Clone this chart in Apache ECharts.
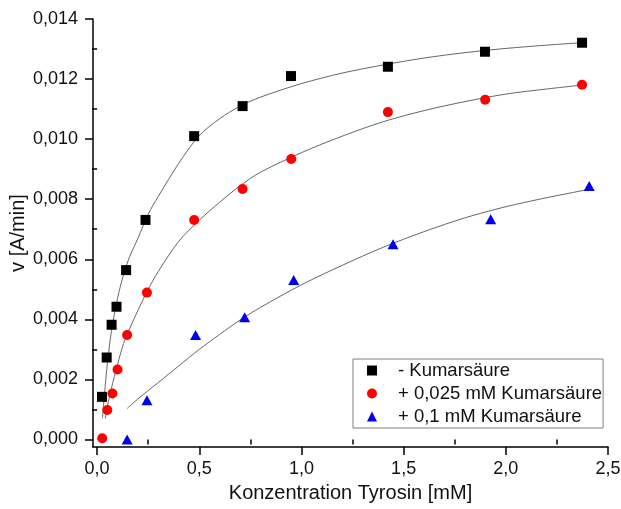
<!DOCTYPE html>
<html lang="de" style="height: 100%">
<head>
    <meta charset="utf-8">
    <title>Kumarsaeure Kinetik</title>
    <script src="https://cdn.jsdelivr.net/npm/echarts@6/dist/echarts.min.js"></script>
</head>
<body style="height: 100%; margin: 0; background: #fff">
    <div id="main" style="width: 621px; height: 509px"></div>
    <script type="text/javascript">

        // Messpunkte
        var concBlack = [0.024, 0.047, 0.071, 0.095, 0.142, 0.237, 0.475, 0.712, 0.949, 1.423, 1.898, 2.373];
        var rateBlack = [0.00142, 0.00273, 0.00382, 0.00442, 0.00564, 0.00731, 0.0101, 0.0111, 0.0121, 0.01241, 0.01291, 0.01321];

        var concRed = [0.025, 0.050, 0.075, 0.100, 0.147, 0.244, 0.475, 0.712, 0.950, 1.423, 1.899, 2.373];
        var rateRed = [0.00004, 0.00098, 0.00153, 0.00233, 0.00348, 0.00489, 0.00731, 0.00834, 0.00934, 0.0109, 0.01131, 0.01181];

        var concBlue = [0.147, 0.244, 0.482, 0.722, 0.962, 1.448, 1.926, 2.408];
        var rateBlue = [0.0, 0.00131, 0.00348, 0.00407, 0.00531, 0.0065, 0.00733, 0.00844];

        // Fitkurven
        var fitBlackX = [0.026, 0.04, 0.05, 0.07, 0.1, 0.13, 0.16, 0.2, 0.25, 0.3, 0.4, 0.5, 0.6, 0.7, 0.8, 1.0, 1.2, 1.4, 1.6, 1.8, 2.0, 2.2, 2.373];
        var fitBlackY = [0.0007, 0.0018, 0.0025, 0.0036, 0.0047, 0.0055, 0.0061, 0.0067, 0.0075, 0.0081, 0.0092, 0.01012, 0.01068, 0.0111, 0.0114, 0.01185, 0.0122, 0.01247, 0.0127, 0.01288, 0.01302, 0.01313, 0.01321];

        var fitRedX = [0.04, 0.05, 0.07, 0.1, 0.13, 0.16, 0.2, 0.25, 0.3, 0.4, 0.5, 0.6, 0.7, 0.8, 1.0, 1.2, 1.4, 1.6, 1.8, 2.0, 2.2, 2.373];
        var fitRedY = [0.0007, 0.0011, 0.0017, 0.0025, 0.0032, 0.0037, 0.0043, 0.0050, 0.0056, 0.0066, 0.0073, 0.0079, 0.00845, 0.0089, 0.00955, 0.0101, 0.01058, 0.01095, 0.01125, 0.0115, 0.01167, 0.0118];

        var fitBlueX = [0.147, 0.2, 0.3, 0.4, 0.5, 0.6, 0.7, 0.8, 1.0, 1.2, 1.4, 1.6, 1.8, 2.0, 2.2, 2.408];
        var fitBlueY = [0.00103, 0.00135, 0.0019, 0.00245, 0.0030, 0.0035, 0.00398, 0.0044, 0.00515, 0.0058, 0.0064, 0.00692, 0.00738, 0.00775, 0.00805, 0.00833];

        // Achsenteilung
        var xTicks = [0, 0.5, 1.0, 1.5, 2.0, 2.5];
        var xMinorTicks = [0.25, 0.75, 1.25, 1.75, 2.25];
        var yTicks = [0, 0.002, 0.004, 0.006, 0.008, 0.010, 0.012, 0.014];
        var yMinorTicks = [0.001, 0.003, 0.005, 0.007, 0.009, 0.011, 0.013];

        var seriesNames = ['- Kumarsäure', '+ 0,025 mM Kumarsäure', '+ 0,1 mM Kumarsäure'];

        function zip(xs, ys) {
            return xs.map(function (x, i) { return [x, ys[i]]; });
        }

        var FONT = 'Liberation Sans, Arial, sans-serif';
        var myChart = echarts.init(document.getElementById('main'));

        var xMin = -0.02, xMax = 2.5;
        var yMin = -0.00025, yMax = 0.014;

        var fitLine = { color: '#666', width: 1 };
        var tickLine = { color: '#000', width: 1.5 };

        var option = {
            backgroundColor: '#fff',
            animation: false,
            // feste Plotfläche, kein automatisches Einrücken
            grid: { left: 93, right: 13, top: 19, bottom: 62, outerBoundsMode: 'none' },
            legend: {
                data: seriesNames,
                orient: 'vertical',
                left: 353,
                top: 359,
                padding: [2, 1, 2, 14],
                itemGap: 4,
                itemWidth: 10,
                itemHeight: 10,
                borderColor: '#808080',
                borderWidth: 1,
                textStyle: { fontFamily: FONT, fontSize: 18.5, color: '#111', lineHeight: 18, padding: [0, 0, 0, 16] }
            },
            xAxis: [
                {
                    type: 'value', min: xMin, max: xMax,
                    name: 'Konzentration Tyrosin [mM]',
                    nameLocation: 'middle', nameGap: 36, nameMoveOverlap: false,
                    nameTextStyle: { fontFamily: FONT, fontSize: 20, color: '#111' },
                    axisLine: { onZero: false, lineStyle: { color: '#000', width: 1.5 } },
                    axisTick: { customValues: xTicks, length: 8, lineStyle: tickLine },
                    axisLabel: {
                        customValues: xTicks, margin: 13,
                        fontFamily: FONT, fontSize: 18, color: '#111',
                        formatter: function (v) { return v.toFixed(1).replace('.', ','); }
                    },
                    splitLine: { show: false }
                },
                {
                    // nur Zwischenstriche
                    type: 'value', min: xMin, max: xMax, position: 'bottom',
                    axisLine: { show: false },
                    axisTick: { customValues: xMinorTicks, length: 5, lineStyle: tickLine },
                    axisLabel: { show: false },
                    splitLine: { show: false }
                }
            ],
            yAxis: [
                {
                    type: 'value', min: yMin, max: yMax,
                    name: 'v [A/min]',
                    nameLocation: 'middle', nameGap: 65, nameMoveOverlap: false,
                    nameTextStyle: { fontFamily: FONT, fontSize: 20, color: '#111' },
                    axisLine: { show: true, onZero: false, lineStyle: { color: '#000', width: 1.5 } },
                    axisTick: { show: true, customValues: yTicks, length: 8, lineStyle: tickLine },
                    axisLabel: {
                        customValues: yTicks, margin: 15,
                        fontFamily: FONT, fontSize: 18, color: '#111',
                        formatter: function (v) { return v.toFixed(3).replace('.', ','); }
                    },
                    splitLine: { show: false }
                },
                {
                    type: 'value', min: yMin, max: yMax, position: 'left',
                    axisLine: { show: false },
                    axisTick: { show: true, customValues: yMinorTicks, length: 5, lineStyle: tickLine },
                    axisLabel: { show: false },
                    splitLine: { show: false }
                }
            ],
            series: [
                { type: 'line', data: zip(fitBlackX, fitBlackY), smooth: 0.3, showSymbol: false, silent: true, lineStyle: fitLine, z: 1 },
                { type: 'line', data: zip(fitRedX, fitRedY), smooth: 0.3, showSymbol: false, silent: true, lineStyle: fitLine, z: 1 },
                { type: 'line', data: zip(fitBlueX, fitBlueY), smooth: 0.3, showSymbol: false, silent: true, lineStyle: fitLine, z: 1 },
                {
                    name: seriesNames[0], type: 'scatter', symbol: 'rect', symbolSize: 10,
                    data: zip(concBlack, rateBlack), itemStyle: { color: '#000', opacity: 1 }, z: 3
                },
                {
                    name: seriesNames[1], type: 'scatter', symbol: 'circle', symbolSize: 10,
                    data: zip(concRed, rateRed), itemStyle: { color: '#ff0000', opacity: 1 }, z: 3
                },
                {
                    name: seriesNames[2], type: 'scatter', symbol: 'triangle', symbolSize: [11, 10],
                    data: zip(concBlue, rateBlue), itemStyle: { color: '#0000ee', opacity: 1 }, z: 3
                }
            ]
        };

        myChart.setOption(option);
    </script>
</body>
</html>
